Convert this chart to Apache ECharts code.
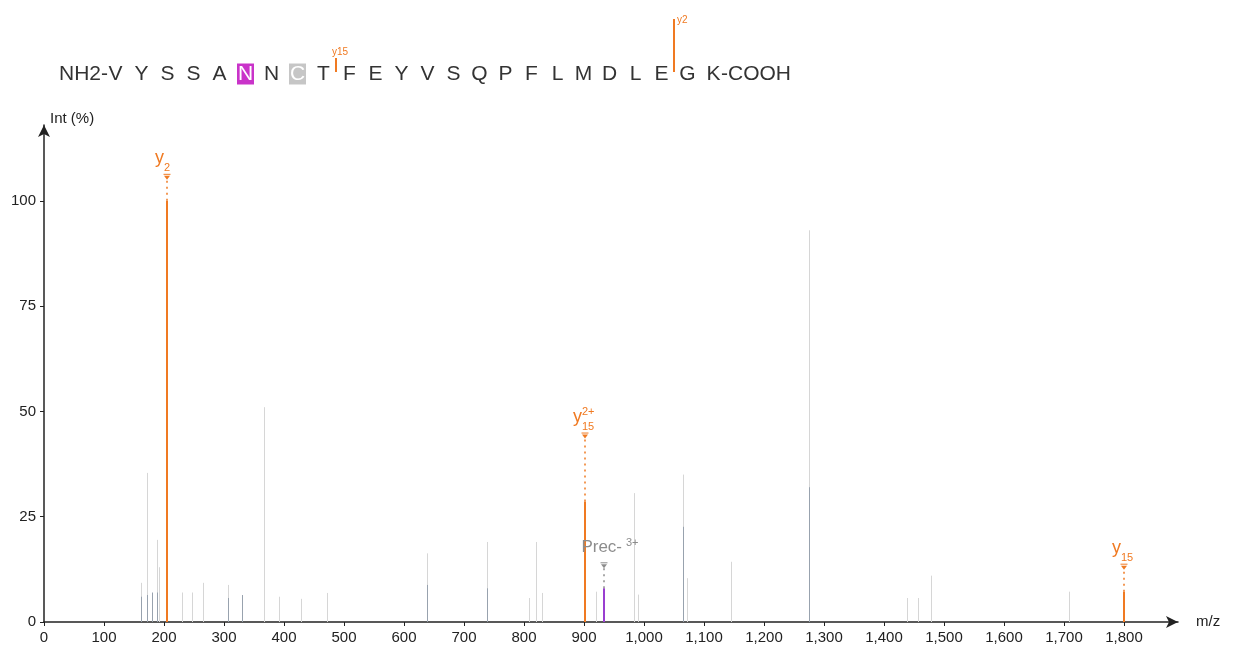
<!DOCTYPE html>
<html><head><meta charset="utf-8">
<script src="https://cdn.jsdelivr.net/npm/echarts@6/dist/echarts.min.js"></script>
<style>html,body{margin:0;padding:0;background:#fff}#c{width:1241px;height:656px}</style>
</head><body><div id="c"></div>
<script>
// ---------------- data ----------------
const residues = ['V','Y','S','S','A','N','N','C','T','F','E','Y','V','S','Q','P','F','L','M','D','L','E','G','K'];
const seqPrefix = 'NH2-';
const seqSuffix = '-COOH';
const modMagenta = [5];          // residue index highlighted magenta
const modGray = [7];             // residue index highlighted gray
const fragLabels = ['y15', 'y2'];
const fragAfterResidue = [8, 21]; // cleavage after this residue index

const xTickValues = [0,100,200,300,400,500,600,700,800,900,1000,1100,1200,1300,1400,1500,1600,1700,1800];
const yTickValues = [0,25,50,75,100];

// unmatched peaks (light gray)
const lightMz  = [161.7,171,188,191.7,229.5,246,265.5,307,367,392,428,471,638,739,808,820,830.5,919.5,984,990.5,1064.5,1072,1144.5,1275.5,1439,1456,1478,1708];
const lightInt = [9.3,35.4,19.5,13,7,7,9.3,8.8,51,6,5.5,6.9,16.3,19,5.7,19,6.9,7.2,30.6,6.5,35,10.4,14.3,93,5.7,5.7,11,7.2];
// overlapping peaks (darker gray)
const darkMz  = [161.7,171,179.5,188,307,330.5,638,739,1064.5,1275.5];
const darkInt = [6,6.4,7,7,5.7,6.4,8.8,8,22.6,32];

// matched / annotated peaks
const matchedNames = ['y2', 'y15 2+', 'Prec 3+', 'y15'];
const matchedMz    = [205, 901.5, 934, 1800.5];
const matchedInt   = [100, 28.6, 8, 7.2];

// ---------------- style ----------------
const ORANGE = '#f07a22';
const PURPLE = '#9a3fd0';
const GRAY_TAG = '#8c8c8c';
const FONT = '"Liberation Sans", Arial, sans-serif';
const labelLiftPx = [26, 68, 25, 27];

function peakRenderer(color, width) {
  return function (params, api) {
    const b = api.coord([api.value(0), 0]);
    const t = api.coord([api.value(0), api.value(1)]);
    const x = Math.round(b[0]) + 0.5;
    return {type: 'line', shape: {x1: x, y1: b[1], x2: x, y2: t[1]},
      style: {stroke: color, lineWidth: width}};
  };
}

function parseName(n) {
  if (n.startsWith('Prec')) return {base: 'Prec-', sub: '', sup: n.split(' ')[1]};
  const parts = n.split(' ');
  return {base: parts[0][0], sub: parts[0].slice(1), sup: parts[1] || ''};
}

// text placed by its alphabetic baseline (approximated via 'middle')
function txt(x, baseline, s, size, col, align) {
  return {type: 'text', x: x, y: baseline - 0.33 * size,
    style: {text: s, fill: col, font: size + 'px ' + FONT, align: align, verticalAlign: 'middle'}};
}

function renderMatched(params, api) {
  const i = params.dataIndex;
  const b = api.coord([api.value(0), 0]);
  const t = api.coord([api.value(0), api.value(1)]);
  const x = Math.round(b[0]);
  const nm = matchedNames[i];
  const isPrec = nm.startsWith('Prec');
  const barCol = isPrec ? PURPLE : ORANGE;
  const tagCol = isPrec ? GRAY_TAG : ORANGE;
  const tipY = t[1] - labelLiftPx[i];
  const p = parseName(nm);
  const kids = [
    {type: 'line', shape: {x1: x, y1: b[1], x2: x, y2: t[1]}, style: {stroke: barCol, lineWidth: 2}},
    {type: 'line', shape: {x1: x, y1: t[1], x2: x, y2: tipY + 5}, style: {stroke: tagCol, lineWidth: 1.5, lineDash: [2, 4]}},
    {type: 'polygon', shape: {points: [[x - 3, tipY + 1], [x + 3, tipY + 1], [x, tipY + 5]]}, style: {fill: tagCol}},
    {type: 'line', shape: {x1: x - 3.5, y1: tipY - 0.5, x2: x + 3.5, y2: tipY - 0.5}, style: {stroke: tagCol, lineWidth: 1}}
  ];
  if (isPrec) {
    kids.push(txt(x + 18, tipY - 10, p.base, 17, tagCol, 'right'));
    kids.push(txt(x + 22, tipY - 17, p.sup, 11, tagCol, 'left'));
  } else {
    kids.push(txt(x - 3, tipY - 11, p.base, 18, tagCol, 'right'));
    kids.push(txt(x - 3, tipY - 3, p.sub, 11, tagCol, 'left'));
    if (p.sup) kids.push(txt(x - 3, tipY - 18, p.sup, 11, tagCol, 'left'));
  }
  return {type: 'group', children: kids};
}

// ---------------- header (peptide sequence) ----------------
const seqX0 = 115.5, seqDx = 26, seqY = 74;
const headerEls = [];
headerEls.push({type: 'text', x: seqX0 - 7.5, y: seqY, style: {text: seqPrefix, fill: '#333', font: '21px ' + FONT, align: 'right', verticalAlign: 'middle'}});
residues.forEach((r, i) => {
  const cx = seqX0 + seqDx * i;
  let col = '#333';
  if (modMagenta.includes(i) || modGray.includes(i)) {
    headerEls.push({type: 'rect', shape: {x: cx - 8.5, y: seqY - 10.5, width: 17, height: 21},
      style: {fill: modMagenta.includes(i) ? '#c933c9' : '#c6c6c6'}});
    col = '#fff';
  }
  headerEls.push({type: 'text', x: cx, y: seqY, style: {text: r, fill: col, font: '21px ' + FONT, align: 'center', verticalAlign: 'middle'}});
});
headerEls.push({type: 'text', x: seqX0 + seqDx * (residues.length - 1) + 7.5, y: seqY, style: {text: seqSuffix, fill: '#333', font: '21px ' + FONT, align: 'left', verticalAlign: 'middle'}});
const fragTop = {y2: 19, y15: 58};
fragLabels.forEach((lab, k) => {
  const fx = Math.round(seqX0 + seqDx * (fragAfterResidue[k] + 0.5)) - 1;
  const top = fragTop[lab];
  headerEls.push({type: 'line', shape: {x1: fx, y1: top, x2: fx, y2: 72}, style: {stroke: ORANGE, lineWidth: 2}});
  if (lab === 'y2') {
    headerEls.push({type: 'text', x: fx + 3, y: top + 1, style: {text: lab, fill: ORANGE, font: '10px ' + FONT, align: 'left', verticalAlign: 'middle'}});
  } else {
    headerEls.push({type: 'text', x: fx - 4, y: top - 1, style: {text: lab, fill: ORANGE, font: '10px ' + FONT, align: 'left', verticalAlign: 'bottom'}});
  }
});

// ---------------- chart ----------------
const chart = echarts.init(document.getElementById('c'), null, {renderer: 'canvas'});
const axisTxt = {color: '#222', fontSize: 15, fontFamily: FONT};
chart.setOption({
  animation: false,
  backgroundColor: '#fff',
  grid: {left: 44, top: 125, width: 1134, height: 497},
  xAxis: {
    type: 'value', min: 0, max: 1890,
    name: 'm/z', nameLocation: 'end', nameGap: 18,
    nameTextStyle: {color: '#222', fontSize: 15, fontFamily: FONT},
    axisLine: {show: true, symbol: ['none', 'arrow'], symbolSize: [9, 12], lineStyle: {color: '#222', width: 1.5}},
    axisTick: {show: true, customValues: xTickValues, length: 4, lineStyle: {color: '#222', width: 1}},
    axisLabel: Object.assign({customValues: xTickValues, margin: 8, formatter: v => v.toLocaleString('en-US')}, axisTxt),
    splitLine: {show: false}
  },
  yAxis: {
    type: 'value', min: 0, max: 118,
    name: 'Int (%)', nameLocation: 'end', nameGap: -1,
    nameTextStyle: {color: '#222', fontSize: 15, fontFamily: FONT, align: 'left', padding: [0, 0, 0, 6]},
    axisLine: {show: true, symbol: ['none', 'arrow'], symbolSize: [9, 12], lineStyle: {color: '#222', width: 1.5}},
    axisTick: {show: true, customValues: yTickValues, length: 4, lineStyle: {color: '#222', width: 1}},
    axisLabel: Object.assign({customValues: yTickValues, margin: 8}, axisTxt),
    splitLine: {show: false}
  },
  graphic: headerEls,
  series: [
    {type: 'custom', name: 'unmatched', renderItem: peakRenderer('#d6d6d6', 1), encode: {x: 0, y: 1},
      data: lightMz.map((m, i) => [m, lightInt[i]]), clip: false, silent: true},
    {type: 'custom', name: 'overlap', renderItem: peakRenderer('#98a2ae', 1), encode: {x: 0, y: 1},
      data: darkMz.map((m, i) => [m, darkInt[i]]), clip: false, silent: true},
    {type: 'custom', name: 'matched', renderItem: renderMatched, encode: {x: 0, y: 1},
      data: matchedMz.map((m, i) => [m, matchedInt[i], i]), clip: false, silent: true}
  ]
});
</script>
</body></html>
